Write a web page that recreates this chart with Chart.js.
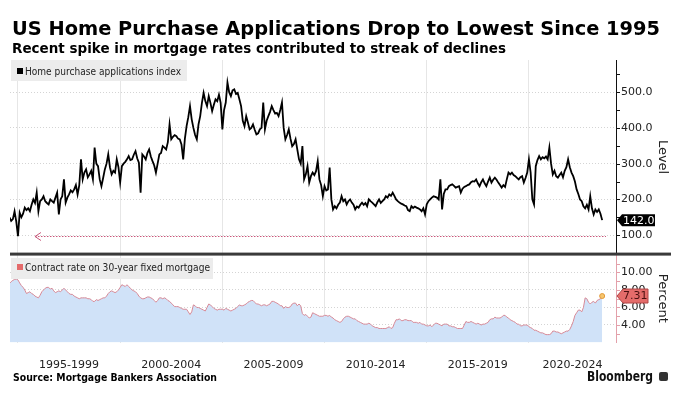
<!DOCTYPE html>
<html>
<head>
<meta charset="utf-8">
<script src="https://cdn.jsdelivr.net/npm/chart.js@4.4.1/dist/chart.umd.min.js"></script>
<style>
body { margin: 0; background: #fff; }
#wrap { position: relative; width: 680px; height: 398px; overflow: hidden; font-family: 'DejaVu Sans', sans-serif; color: #000; }
#wrap canvas { position: absolute; left: 0; top: 0; }
.txt { position: absolute; white-space: nowrap; transform-origin: 0 0; font-weight: bold; }
#logo { position: absolute; left: 659px; top: 372px; width: 9px; height: 9px; background: #333; border-radius: 2px; }
</style>
</head>
<body>
<div id="wrap">
  <canvas id="chart" width="680" height="398"></canvas>
  <div class="txt" data-w="648" style="left:12px; top:18px; font-size:20px; line-height:20px;">US Home Purchase Applications Drop to Lowest Since 1995</div>
  <div class="txt" data-w="494" style="left:12px; top:41px; font-size:14.5px; line-height:14.5px;">Recent spike in mortgage rates contributed to streak of declines</div>
  <div class="txt" data-w="204" style="left:13px; top:372px; font-size:11px; line-height:11px;">Source: Mortgage Bankers Association</div>
  <div class="txt" data-w="66" style="left:587px; top:370px; font-size:13.5px; line-height:13.5px; color:#111;">Bloomberg</div>
  <div id="logo"></div>
</div>
<script>
// monthly series, first value = Aug 1994, last value = Aug 2023
var startYear = 1994;
var startMonth = 8;

var purchaseIndex = [
    150, 140, 145, 167, 138,
    97, 163, 150, 160, 177, 170, 175, 167, 185, 200, 190, 219,
    167, 195, 200, 209, 195, 190, 186, 200, 195, 191, 205, 219,
    158, 200, 209, 256, 191, 205, 214, 225, 220, 228, 240, 214,
    240, 312, 256, 275, 284, 262, 270, 280, 256, 345, 300, 293,
    256, 237, 260, 284, 300, 326, 290, 270, 280, 275, 312, 290,
    247, 293, 300, 305, 312, 321, 310, 312, 325, 335, 315, 303,
    219, 326, 320, 312, 330, 340, 320, 307, 295, 275, 300, 326,
    330, 349, 345, 340, 360, 410, 368, 375, 380, 377, 370, 368,
    354, 312, 370, 405, 430, 461, 424, 400, 380, 368, 410, 433,
    470, 498, 475, 461, 489, 470, 447, 465, 480, 475, 493, 470,
    396, 450, 471, 527, 500, 489, 505, 508, 495, 498, 480, 461,
    420, 405, 433, 415, 396, 400, 410, 395, 382, 385, 396, 400,
    471, 396, 420, 433, 445, 461, 450, 440, 442, 433, 450, 471,
    400, 368, 380, 396, 370, 349, 355, 368, 340, 312, 300, 349,
    256, 270, 293, 247, 265, 275, 268, 279, 307, 256, 240, 209,
    237, 225, 228, 289, 200, 172, 181, 175, 185, 191, 209, 195,
    200, 186, 195, 200, 191, 185, 172, 180, 177, 185, 191, 185,
    190, 181, 200, 195, 191, 186, 181, 192, 200, 190, 195, 200,
    209, 205, 214, 210, 219, 210, 200, 195, 191, 188, 186, 183,
    181, 170, 167, 181, 176, 180, 177, 175, 172, 167, 175, 158,
    186, 195, 200, 205, 209, 207, 205, 200, 256, 172, 215, 228,
    228, 237, 240, 242, 238, 233, 235, 237, 219, 230, 235, 237,
    240, 242, 248, 251, 250, 256, 245, 237, 248, 256, 245, 237,
    250, 261, 247, 255, 261, 255, 247, 240, 233, 240, 235, 256,
    275, 270, 275, 268, 265, 260, 256, 262, 265, 247, 260, 275,
    312, 275, 200, 186, 293, 310, 321, 312, 318, 315, 320, 312,
    345, 300, 270, 280, 265, 261, 268, 275, 262, 280, 290, 312,
    290, 275, 265, 250, 228, 215, 200, 195, 181, 175, 185, 172,
    209, 175, 158, 172, 165, 172, 160, 142
];

var mortgageRate = [
    8.75, 8.95, 9.1, 9.2, 9.25,
    9.15, 8.8, 8.5, 8.3, 8.0, 7.6, 7.7, 7.8, 7.6, 7.5, 7.3, 7.2,
    7.1, 7.4, 7.8, 8.0, 8.2, 8.3, 8.3, 8.1, 8.2, 7.9, 7.7, 7.8,
    7.9, 7.8, 8.0, 8.2, 8.0, 7.8, 7.6, 7.5, 7.5, 7.3, 7.2, 7.1,
    7.0, 7.1, 7.1, 7.1, 7.1, 7.0, 7.0, 6.9, 6.7, 6.7, 6.9, 6.8,
    6.9, 7.0, 7.1, 7.1, 7.3, 7.6, 7.8, 7.9, 7.8, 7.7, 7.8, 8.0,
    8.3, 8.6, 8.5, 8.4, 8.6, 8.4, 8.2, 8.0, 7.9, 7.8, 7.6, 7.3,
    7.1, 7.0, 7.0, 7.1, 7.2, 7.2, 7.1, 7.0, 6.8, 6.6, 6.8, 7.1,
    7.1, 7.0, 7.1, 7.0, 6.8, 6.7, 6.5, 6.3, 6.1, 6.1, 6.1, 6.0,
    5.9, 5.8, 5.8, 5.8, 5.5, 5.2, 5.5, 6.3, 6.2, 6.0, 6.0, 5.9,
    5.8, 5.7, 5.6, 6.0, 6.4, 6.3, 6.1, 5.9, 5.8, 5.7, 5.8, 5.8,
    5.8, 5.7, 5.9, 5.8, 5.7, 5.6, 5.7, 5.8, 5.9, 6.1, 6.3, 6.2,
    6.2, 6.3, 6.4, 6.6, 6.7, 6.8, 6.8, 6.6, 6.4, 6.4, 6.3, 6.2,
    6.3, 6.3, 6.2, 6.3, 6.4, 6.7, 6.7, 6.6, 6.5, 6.4, 6.2, 6.2,
    5.9, 6.1, 6.0, 6.0, 6.1, 6.4, 6.5, 6.5, 6.2, 6.4, 6.2, 5.3,
    5.1, 5.2, 5.0, 4.8, 4.9, 5.4, 5.3, 5.2, 5.1, 5.0, 5.0, 5.0,
    5.1, 5.1, 5.0, 5.1, 4.9, 4.8, 4.6, 4.5, 4.4, 4.3, 4.4, 4.7,
    4.9, 5.0, 5.0, 4.9, 4.8, 4.7, 4.7, 4.5, 4.4, 4.3, 4.2, 4.1,
    4.1, 4.1, 4.2, 4.1, 3.9, 3.8, 3.7, 3.7, 3.6, 3.6, 3.6, 3.6,
    3.6, 3.7, 3.8, 3.6, 3.7, 4.2, 4.6, 4.6, 4.7, 4.5, 4.5, 4.6,
    4.6, 4.5, 4.5, 4.5, 4.3, 4.3, 4.3, 4.2, 4.3, 4.1, 4.1, 4.0,
    3.9, 3.9, 4.0, 3.8, 4.0, 4.2, 4.2, 4.1, 4.0, 3.9, 4.1, 4.1,
    4.1, 3.9, 3.9, 3.8, 3.8, 3.7, 3.6, 3.6, 3.6, 3.6, 4.0, 4.4,
    4.3, 4.3, 4.4, 4.3, 4.2, 4.1, 4.2, 4.1, 4.0, 4.1, 4.1, 4.2,
    4.3, 4.6, 4.7, 4.7, 4.9, 4.8, 4.8, 4.8, 4.9, 5.1, 5.1, 4.9,
    4.8, 4.6, 4.5, 4.4, 4.3, 4.1, 4.1, 3.9, 3.9, 4.0, 4.0, 4.0,
    3.8, 3.7, 3.6, 3.4, 3.4, 3.3, 3.2, 3.1, 3.1, 3.0, 2.9, 2.9,
    2.9, 3.0, 3.3, 3.3, 3.2, 3.2, 3.1, 3.0, 3.1, 3.2, 3.3, 3.3,
    3.5, 3.9, 4.4, 5.1, 5.4, 5.7, 5.7, 5.5, 6.0, 7.1, 7.0, 6.6,
    6.4, 6.6, 6.7, 6.5, 6.8, 6.9, 7.0, 7.31
];

var periodStarts = [1995, 2000, 2005, 2010, 2015, 2020];
var periodLabels = ['1995-1999', '2000-2004', '2005-2009', '2010-2014', '2015-2019', '2020-2024'];
var levelTicks = [100, 200, 300, 400, 500];
var rateTicks = [4, 6, 8, 10];
var lowLevel = 98.5; // the 1995 low the dotted arrow points back to

var xMin = 1994.61, xMax = 2024.26;

function toPoints(arr) {
    return arr.map(function (v, i) {
        return { x: startYear + (startMonth - 1 + i) / 12, y: v };
    });
}

// x ticks: period boundaries carry the grid, mid points carry the labels
var xTicks = [];
periodStarts.forEach(function (s, i) {
    xTicks.push({ value: s, text: '' });
    var mid = (Math.max(s, xMin) + Math.min(s + 5, xMax)) / 2;
    xTicks.push({ value: mid, text: periodLabels[i] });
});
xTicks.sort(function (a, b) { return a.value - b.value; });

function fitText(ctx, txt, x, y, w) {
    var m = ctx.measureText(txt).width;
    ctx.save();
    ctx.translate(x, y);
    ctx.scale(w / m, 1);
    ctx.fillText(txt, 0, 0);
    ctx.restore();
}

function hLine(ctx, x1, x2, py) {
    ctx.beginPath();
    ctx.moveTo(x1, py);
    ctx.lineTo(x2, py);
    ctx.stroke();
}

var decor = {
    id: 'decor',
    afterDraw: function (chart) {
        var ctx = chart.ctx, a = chart.chartArea;
        var x = chart.scales.x, y = chart.scales.y, y2 = chart.scales.y2;
        ctx.save();

        // minor tick marks on the right axes
        ctx.lineWidth = 1;
        ctx.strokeStyle = '#111';
        for (var v = 50; v <= 550; v += 50) {
            var py = Math.round(y.getPixelForValue(v)) + 0.5;
            if (py > y.top && py < y.bottom) hLine(ctx, a.right, a.right + 4, py);
        }
        ctx.strokeStyle = '#e3a0aa';
        for (var r = 3; r <= 11; r++) {
            var pr = Math.round(y2.getPixelForValue(r)) + 0.5;
            hLine(ctx, a.right, a.right + 4, pr);
        }

        // thick separator between the panels
        ctx.fillStyle = '#3a3a3a';
        ctx.fillRect(a.left, y.bottom - 1.5, 671 - a.left, 3);

        // legend boxes
        ctx.font = '11px "DejaVu Sans"';
        ctx.textBaseline = 'alphabetic';
        ctx.fillStyle = '#ececec';
        ctx.fillRect(11, 60, 176, 21);
        ctx.fillStyle = '#000';
        ctx.fillRect(17, 68, 6, 6);
        ctx.fillStyle = '#222';
        fitText(ctx, 'Home purchase applications index', 25, 75, 156);

        ctx.fillStyle = '#ececec';
        ctx.fillRect(11, 258, 202, 21);
        ctx.fillStyle = '#e46a6a';
        ctx.fillRect(17, 264, 6, 6);
        ctx.fillStyle = '#222';
        fitText(ctx, 'Contract rate on 30-year fixed mortgage', 25, 271, 185);

        // dotted arrow back to the 1995 low
        var ly = Math.round(y.getPixelForValue(lowLevel)) + 0.5;
        var ax = x.getPixelForValue(1995) + 17;
        ctx.strokeStyle = '#c8577a';
        ctx.lineWidth = 1.2;
        ctx.setLineDash([1.5, 1.5]);
        hLine(ctx, ax, a.right - 10, ly);
        ctx.setLineDash([]);
        ctx.lineWidth = 1;
        ctx.beginPath();
        ctx.moveTo(ax + 6, ly - 4);
        ctx.lineTo(ax, ly);
        ctx.lineTo(ax + 6, ly + 4);
        ctx.stroke();

        // last value labels
        ctx.font = '11px "DejaVu Sans"';
        ctx.textBaseline = 'middle';
        var last = purchaseIndex[purchaseIndex.length - 1];
        var vy = y.getPixelForValue(last);
        ctx.fillStyle = '#000';
        ctx.beginPath();
        ctx.moveTo(a.right + 1, vy);
        ctx.lineTo(a.right + 6, vy - 6);
        ctx.lineTo(a.right + 39, vy - 6);
        ctx.lineTo(a.right + 39, vy + 6);
        ctx.lineTo(a.right + 6, vy + 6);
        ctx.closePath();
        ctx.fill();
        ctx.fillStyle = '#fff';
        ctx.fillText(last.toFixed(1), a.right + 7, vy + 0.5);

        var lastRate = mortgageRate[mortgageRate.length - 1];
        var ry = y2.getPixelForValue(lastRate);
        ctx.fillStyle = '#e46c6a';
        ctx.strokeStyle = '#b04646';
        ctx.beginPath();
        ctx.moveTo(a.right + 1, ry);
        ctx.lineTo(a.right + 7, ry - 7);
        ctx.lineTo(a.right + 32, ry - 7);
        ctx.lineTo(a.right + 32, ry + 7);
        ctx.lineTo(a.right + 7, ry + 7);
        ctx.closePath();
        ctx.fill();
        ctx.stroke();
        ctx.fillStyle = '#4a1010';
        ctx.fillText(lastRate.toFixed(2), a.right + 7, ry + 0.5);

        // axis titles
        ctx.fillStyle = '#222';
        ctx.font = '13px "DejaVu Sans"';
        ctx.textAlign = 'center';
        [[y, 'Level'], [y2, 'Percent']].forEach(function (t) {
            ctx.save();
            ctx.translate(662, (t[0].top + t[0].bottom) / 2);
            ctx.rotate(Math.PI / 2);
            ctx.fillText(t[1], 0, 0);
            ctx.restore();
        });
        ctx.restore();
    }
};

Chart.defaults.font.family = "'DejaVu Sans', sans-serif";
Chart.defaults.font.size = 11;
Chart.defaults.color = '#222';

var lastRateIdx = mortgageRate.length - 1;

new Chart(document.getElementById('chart'), {
    type: 'line',
    data: {
        datasets: [{
            label: 'Home purchase applications index',
            data: toPoints(purchaseIndex),
            yAxisID: 'y',
            borderColor: '#000',
            borderWidth: 1.8,
            pointRadius: 0,
            fill: false
        }, {
            label: 'Contract rate on 30-year fixed mortgage',
            data: toPoints(mortgageRate),
            yAxisID: 'y2',
            borderColor: '#d88a97',
            borderWidth: 1,
            backgroundColor: '#d0e2f8',
            fill: 'start',
            pointRadius: function (c) { return c.dataIndex === lastRateIdx ? 2.5 : 0; },
            pointBackgroundColor: '#f6c66e',
            pointBorderColor: '#e39a3a',
            pointBorderWidth: 1
        }]
    },
    options: {
        responsive: false,
        animation: false,
        devicePixelRatio: 1,
        layout: { padding: { left: 10, top: 60, right: 0, bottom: 25.5 } },
        plugins: { legend: { display: false }, tooltip: { enabled: false } },
        scales: {
            x: {
                type: 'linear',
                min: xMin,
                max: xMax,
                afterBuildTicks: function (s) {
                    s.ticks = xTicks.map(function (t) { return { value: t.value }; });
                },
                afterFit: function (s) { s.height = 30; },
                grid: {
                    color: function (c) {
                        return c.tick && periodStarts.indexOf(c.tick.value) >= 0 ? '#e6e6e6' : 'rgba(0,0,0,0)';
                    },
                    drawTicks: false
                },
                border: { display: false },
                ticks: {
                    autoSkip: false,
                    maxRotation: 0,
                    padding: 16,
                    color: '#222',
                    callback: function (v, i) { return xTicks[i] ? xTicks[i].text : ''; }
                }
            },
            y: {
                type: 'linear',
                position: 'right',
                stack: 'panels',
                stackWeight: 194.1,
                min: 47,
                max: 590,
                afterBuildTicks: function (s) {
                    s.ticks = levelTicks.map(function (v) { return { value: v }; });
                },
                afterFit: function (s) { s.width = 64; },
                grid: { color: '#d4d4d4', drawTicks: false },
                border: { color: '#111', width: 1, dash: [1, 2] },
                ticks: { padding: 5, callback: function (v) { return v.toFixed(1); } }
            },
            y2: {
                type: 'linear',
                position: 'right',
                stack: 'panels',
                stackWeight: 88.4,
                min: 2,
                max: 12.1,
                afterBuildTicks: function (s) {
                    s.ticks = rateTicks.map(function (v) { return { value: v }; });
                },
                afterFit: function (s) { s.width = 64; },
                grid: { color: '#d4d4d4', drawTicks: false },
                border: { color: '#e3a0aa', width: 1, dash: [1, 2] },
                ticks: { padding: 5, callback: function (v) { return v.toFixed(2); } }
            }
        }
    },
    plugins: [decor]
});

// squeeze the html texts to the widths they have in the reference
document.querySelectorAll('.txt').forEach(function (el) {
    var w = parseFloat(el.getAttribute('data-w'));
    var k = w / el.getBoundingClientRect().width;
    el.style.transform = 'scaleX(' + k + ')';
});
</script>
</body>
</html>
